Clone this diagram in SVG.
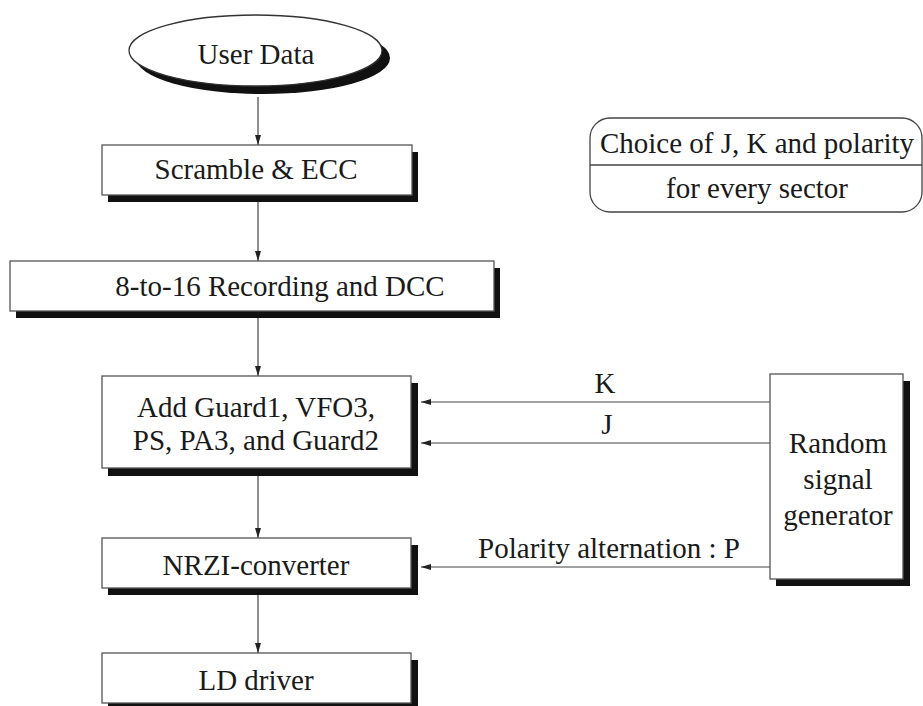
<svg xmlns="http://www.w3.org/2000/svg" width="923" height="706" viewBox="0 0 923 706">
<defs>
<style>
.box{fill:#fff;stroke:#555;stroke-width:1.3}
.sh{fill:#111}
.t{font-family:'Liberation Serif','Times New Roman',serif;font-size:29px;fill:#1a1a1a;text-anchor:middle}
.ln{stroke:#444;stroke-width:1.2;fill:none}
</style>
<marker id="ah" viewBox="0 0 10 6" refX="10" refY="3" markerWidth="10" markerHeight="6" markerUnits="userSpaceOnUse" orient="auto">
<path d="M0,0 L10,3 L0,6 z" fill="#222"/>
</marker>
</defs>
<rect width="923" height="706" fill="#fff"/>

<g id="connectors">
<line class="ln" x1="258" y1="97" x2="258" y2="145" marker-end="url(#ah)"/>
<line class="ln" x1="258" y1="202" x2="258" y2="261" marker-end="url(#ah)"/>
<line class="ln" x1="258" y1="318" x2="258" y2="376" marker-end="url(#ah)"/>
<line class="ln" x1="258" y1="476" x2="258" y2="538" marker-end="url(#ah)"/>
<line class="ln" x1="258" y1="595" x2="258" y2="653" marker-end="url(#ah)"/>
<line class="ln" x1="770" y1="402" x2="421" y2="402" marker-end="url(#ah)"/>
<line class="ln" x1="770" y1="443" x2="421" y2="443" marker-end="url(#ah)"/>
<line class="ln" x1="770" y1="567" x2="421" y2="567" marker-end="url(#ah)"/>
<text class="t" x="605" y="393">K</text>
<text class="t" x="607" y="434">J</text>
<text class="t" x="609" y="558">Polarity alternation : P</text>
</g>

<g id="user-data">
<ellipse class="sh" cx="263" cy="58" rx="127" ry="36"/>
<ellipse cx="255.5" cy="50.5" rx="126.5" ry="35.5" fill="#fff" stroke="#333" stroke-width="1.3"/>
<text class="t" x="256" y="64">User Data</text>
</g>

<g id="scramble">
<rect class="sh" x="108" y="152" width="310" height="50"/>
<rect class="box" x="102" y="145" width="310" height="50"/>
<text class="t" x="256" y="179">Scramble &amp; ECC</text>
</g>

<g id="recording">
<rect class="sh" x="16" y="268" width="484" height="50"/>
<rect class="box" x="10" y="261" width="484" height="50"/>
<text class="t" x="280" y="296">8-to-16 Recording and DCC</text>
</g>

<g id="add-guard">
<rect class="sh" x="108" y="383" width="310" height="93"/>
<rect class="box" x="102" y="376" width="309" height="92"/>
<text class="t" x="256" y="417">Add Guard1, VFO3,</text>
<text class="t" x="256" y="450">PS, PA3, and Guard2</text>
</g>

<g id="nrzi">
<rect class="sh" x="108" y="545" width="310" height="50"/>
<rect class="box" x="102" y="538" width="309" height="50"/>
<text class="t" x="256" y="575">NRZI-converter</text>
</g>

<g id="ld-driver">
<rect class="sh" x="108" y="660" width="310" height="50"/>
<rect class="box" x="102" y="653" width="309" height="50"/>
<text class="t" x="256" y="690">LD driver</text>
</g>

<g id="random-generator">
<rect class="sh" x="776" y="381" width="134" height="205"/>
<rect class="box" x="770" y="374" width="133" height="205"/>
<text class="t" x="838" y="453">Random</text>
<text class="t" x="838" y="489">signal</text>
<text class="t" x="838" y="525">generator</text>
</g>

<g id="choice">
<rect x="590" y="118" width="332" height="94" rx="20" ry="20" fill="#fff" stroke="#444" stroke-width="1.3"/>
<line x1="590" y1="165" x2="922" y2="165" stroke="#444" stroke-width="1.3"/>
<text class="t" x="757" y="153">Choice of J, K and polarity</text>
<text class="t" x="757" y="198">for every sector</text>
</g>
</svg>
